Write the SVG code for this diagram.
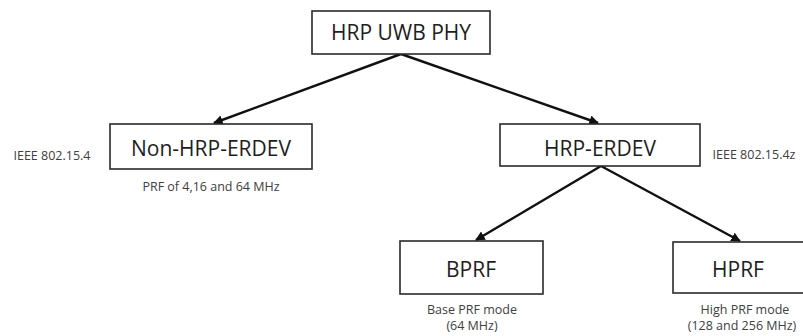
<svg xmlns="http://www.w3.org/2000/svg" width="803" height="336" viewBox="0 0 803 336">
  <style>
    .box { fill: #ffffff; stroke: #2a2a2a; stroke-width: 1.6; }
    .title { font-family: "Open Sans", "Noto Sans", sans-serif; font-size: 21px; fill: #1e1e1e; text-anchor: middle; }
    .note { font-family: "Open Sans", "Noto Sans", sans-serif; font-size: 12.5px; fill: #404040; text-anchor: middle; }
    .edge { stroke: #111111; stroke-width: 2.4; fill: none; marker-end: url(#arrow); }
  </style>
  <defs>
    <marker id="arrow" viewBox="0 0 10 10" refX="9" refY="5" markerWidth="4" markerHeight="4" markerUnits="strokeWidth" orient="auto">
      <path d="M0,0 L10,5 L0,10 z" fill="#111111"/>
    </marker>
  </defs>
  <rect width="803" height="336" fill="#ffffff"/>

  <g id="connectors">
    <line class="edge" x1="401" y1="54" x2="214" y2="123"/>
    <line class="edge" x1="401" y1="54" x2="598" y2="123"/>
    <line class="edge" x1="601" y1="166" x2="476" y2="240"/>
    <line class="edge" x1="601" y1="166" x2="740" y2="241"/>
  </g>

  <g id="hrp-uwb-phy">
    <rect class="box" x="312" y="11" width="178" height="43"/>
    <text class="title" x="401" y="40">HRP UWB PHY</text>
  </g>

  <g id="non-hrp-erdev">
    <rect class="box" x="110" y="124" width="202" height="45"/>
    <text class="title" x="211" y="156">Non-HRP-ERDEV</text>
    <text class="note" x="52" y="160">IEEE 802.15.4</text>
    <text class="note" x="211" y="191">PRF of 4,16 and 64 MHz</text>
  </g>

  <g id="hrp-erdev">
    <rect class="box" x="500" y="124" width="200" height="42"/>
    <text class="title" x="600" y="156">HRP-ERDEV</text>
    <text class="note" x="754" y="159">IEEE 802.15.4z</text>
  </g>

  <g id="bprf">
    <rect class="box" x="400" y="241" width="143" height="53"/>
    <text class="title" x="471" y="277">BPRF</text>
    <text class="note" x="472" y="314">Base PRF mode</text>
    <text class="note" x="472" y="330">(64 MHz)</text>
  </g>

  <g id="hprf">
    <rect class="box" x="673" y="242" width="140" height="51"/>
    <text class="title" x="738" y="277">HPRF</text>
    <text class="note" x="745" y="314">High PRF mode</text>
    <text class="note" x="742" y="330">(128 and 256 MHz)</text>
  </g>
</svg>
